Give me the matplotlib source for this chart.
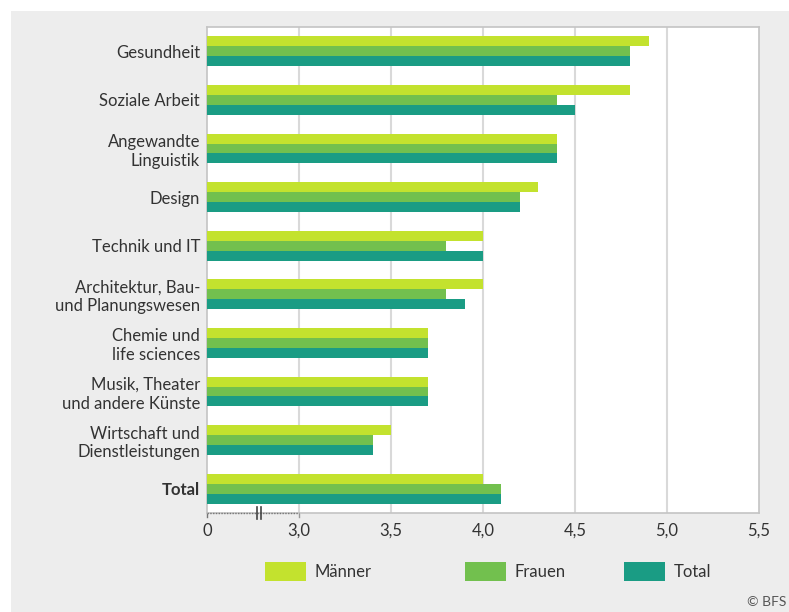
import matplotlib
matplotlib.use("Agg")
import matplotlib.pyplot as plt
from matplotlib.patches import Rectangle
from matplotlib.transforms import blended_transform_factory
import numpy as np

plt.rcParams['font.family'] = ['Lato', 'DejaVu Sans']

categories = ["Gesundheit", "Soziale Arbeit", "Angewandte\nLinguistik", "Design",
              "Technik und IT", "Architektur, Bau-\nund Planungswesen",
              "Chemie und\nlife sciences", "Musik, Theater\nund andere Künste",
              "Wirtschaft und\nDienstleistungen", "Total"]
maenner = [4.9, 4.8, 4.4, 4.3, 4.0, 4.0, 3.7, 3.7, 3.5, 4.0]
frauen  = [4.8, 4.4, 4.4, 4.2, 3.8, 3.8, 3.7, 3.7, 3.4, 4.1]
total   = [4.8, 4.5, 4.4, 4.2, 4.0, 3.9, 3.7, 3.7, 3.4, 4.1]
series_names = ["Männer", "Frauen", "Total"]
colors = ["#C3E22E", "#72C04E", "#1A9C84"]
xticks = [2.5, 3.0, 3.5, 4.0, 4.5, 5.0, 5.5]
xticklabels = ["0", "3,0", "3,5", "4,0", "4,5", "5,0", "5,5"]

W, H = 789, 612
FS = 12
fig = plt.figure(figsize=(W / 100, H / 100), dpi=100, facecolor="white")
fig.add_artist(Rectangle((11 / W, 0), 1, (H - 11) / H, transform=fig.transFigure,
                         facecolor="#EDEDED", edgecolor="none", zorder=-10))

ax = fig.add_axes([207 / W, (H - 513) / H, (759 - 207) / W, (513 - 27) / H])
ax.set_facecolor("white")

y = np.arange(len(categories))
h = 0.205
for k, (vals, c, name) in enumerate(zip([maenner, frauen, total], colors, series_names)):
    ax.barh(y + (k - 1) * h, vals, height=h, left=0, color=c, label=name, zorder=3)

ax.set_xlim(2.5, 5.5)
ax.set_ylim(9.5, -0.5)
ax.set_xticks(xticks)
ax.set_xticklabels(xticklabels, fontsize=FS, color="#333333")
ax.set_yticks(y)
ax.set_yticklabels(categories, fontsize=FS, color="#333333", linespacing=1.2, ha="right",
                   multialignment="right")
for lbl in ax.get_yticklabels():
    if lbl.get_text() == "Total":
        lbl.set_fontweight("bold")
ax.tick_params(axis="y", length=0, pad=5)
ax.tick_params(axis="x", length=0, pad=7)

for gx in [3.0, 3.5, 4.0, 4.5, 5.0]:
    ax.axvline(gx, color="#D9D9D9", lw=1.5, zorder=1)
for s in ax.spines.values():
    s.set_color("#C4C4C4")
    s.set_linewidth(1.2)

# axis break indication
tr = blended_transform_factory(ax.transData, ax.transAxes)
ax.plot([2.5, 3.0], [0, 0], transform=tr, color="#777777", lw=1.0, ls=(0, (1, 1)),
        clip_on=False, zorder=5)
ax.plot([2.5, 2.5], [0, -0.008], transform=tr, color="#777777", lw=1, clip_on=False)
ax.plot([3.0, 3.0], [0, -0.008], transform=tr, color="#999999", lw=1, clip_on=False)
for bx in [2.772, 2.793]:
    ax.plot([bx, bx], [-0.012, 0.012], transform=tr, color="#444444", lw=1.2, clip_on=False, zorder=6)

# legend (manual placement)
leg_x = [265, 465, 624]
for name, c, lx in zip(series_names, colors, leg_x):
    fig.add_artist(Rectangle((lx / W, (H - 581) / H), 41 / W, 19 / H, transform=fig.transFigure,
                             facecolor=c, edgecolor="none"))
    fig.text((lx + 50) / W, (H - 572) / H, name, fontsize=FS, color="#333333",
             va="center", ha="left")

fig.text(786 / W, (H - 602) / H, "© BFS", fontsize=10, color="#555555", va="center", ha="right")

fig.savefig("out.png", dpi=100, facecolor="white")
